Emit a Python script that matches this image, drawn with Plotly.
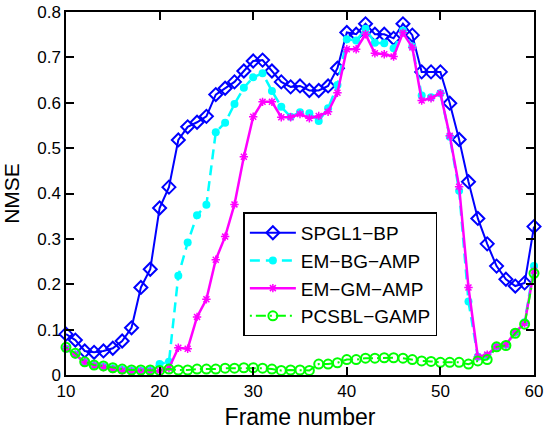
import plotly.graph_objects as go

frames = list(range(10, 61))

spgl1_bp = [0.090, 0.077, 0.053, 0.050, 0.053, 0.059, 0.075, 0.104, 0.193, 0.233,
            0.368, 0.414, 0.518, 0.547, 0.557, 0.570, 0.618, 0.632, 0.646, 0.670,
            0.692, 0.694, 0.670, 0.646, 0.635, 0.637, 0.627, 0.627, 0.637, 0.676,
            0.755, 0.751, 0.774, 0.751, 0.751, 0.742, 0.774, 0.749, 0.668, 0.668,
            0.668, 0.599, 0.519, 0.426, 0.345, 0.289, 0.240, 0.211, 0.196, 0.203,
            0.327]

em_bg_amp = [0.058, 0.045, 0.028, 0.022, 0.019, 0.015, 0.012, 0.010, 0.010, 0.011,
             0.024, 0.029, 0.219, 0.292, 0.352, 0.375, 0.535, 0.556, 0.597, 0.633,
             0.656, 0.665, 0.626, 0.591, 0.569, 0.579, 0.577, 0.560, 0.588, 0.639,
             0.740, 0.737, 0.763, 0.732, 0.731, 0.720, 0.759, 0.724, 0.616, 0.612,
             0.621, 0.525, 0.406, 0.162, 0.040, 0.042, 0.063, 0.067, 0.094, 0.116,
             0.240]

em_gm_amp = [0.058, 0.045, 0.028, 0.021, 0.017, 0.013, 0.010, 0.008, 0.008, 0.008,
             0.009, 0.015, 0.060, 0.058, 0.128, 0.167, 0.254, 0.305, 0.376, 0.481,
             0.569, 0.602, 0.602, 0.568, 0.568, 0.575, 0.566, 0.571, 0.580, 0.622,
             0.718, 0.718, 0.751, 0.709, 0.707, 0.702, 0.754, 0.722, 0.605, 0.610,
             0.621, 0.527, 0.415, 0.193, 0.040, 0.045, 0.063, 0.067, 0.094, 0.114,
             0.230]

pcsbl_gamp = [0.061, 0.048, 0.029, 0.022, 0.020, 0.016, 0.013, 0.011, 0.011, 0.011,
              0.010, 0.013, 0.011, 0.011, 0.013, 0.013, 0.013, 0.015, 0.015, 0.016,
              0.016, 0.015, 0.013, 0.010, 0.011, 0.011, 0.010, 0.024, 0.024, 0.027,
              0.034, 0.034, 0.037, 0.037, 0.038, 0.038, 0.037, 0.034, 0.031, 0.030,
              0.028, 0.028, 0.028, 0.024, 0.031, 0.034, 0.062, 0.065, 0.092, 0.112,
              0.224]

x_ticks = [10, 20, 30, 40, 50, 60]
y_ticks = [0, 0.1, 0.2, 0.3, 0.4, 0.5, 0.6, 0.7, 0.8]
y_tick_labels = ["0", "0.1", "0.2", "0.3", "0.4", "0.5", "0.6", "0.7", "0.8"]

FONT = "Liberation Sans, Arial, sans-serif"

fig = go.Figure()

fig.add_trace(go.Scatter(
    x=frames, y=spgl1_bp, name="SPGL1\u2212BP", mode="lines+markers",
    line=dict(color="#0000FF", width=2),
    marker=dict(symbol="diamond-open", size=10, color="#0000FF",
                line=dict(color="#0000FF", width=2)),
    cliponaxis=False))

fig.add_trace(go.Scatter(
    x=frames, y=em_bg_amp, name="EM\u2212BG\u2212AMP", mode="lines+markers",
    line=dict(color="#00FFFF", width=2.5, dash="10px,6px"),
    marker=dict(symbol="circle", size=8, color="#00FFFF"),
    cliponaxis=False))

fig.add_trace(go.Scatter(
    x=frames, y=em_gm_amp, name="EM\u2212GM\u2212AMP", mode="lines+markers",
    line=dict(color="#FF00FF", width=2.5),
    marker=dict(symbol="asterisk-open", size=7, color="#FF00FF",
                line=dict(color="#FF00FF", width=1.5)),
    cliponaxis=False))

fig.add_trace(go.Scatter(
    x=frames, y=pcsbl_gamp, name="PCSBL\u2212GAMP", mode="lines+markers",
    line=dict(color="#00FF00", width=2, dash="2px,4px,10px,4px"),
    marker=dict(symbol="circle-open", size=9, color="#00FF00",
                line=dict(color="#00FF00", width=2)),
    cliponaxis=False))

axis_common = dict(
    showline=True, linecolor="black", linewidth=1.5, mirror="ticks",
    ticks="inside", ticklen=8, tickwidth=1.5, tickcolor="black",
    showgrid=False, zeroline=False, automargin=False,
    ticklabeloverflow="allow",
    tickfont=dict(family=FONT, size=17, color="black"),
)

fig.update_layout(
    width=546, height=431,
    margin=dict(l=65.5, r=12, t=12, b=56),
    paper_bgcolor="white", plot_bgcolor="white",
    font=dict(family=FONT, color="black"),
    xaxis=dict(range=[10, 60], tickvals=x_ticks,
               title=dict(text="Frame number", font=dict(family=FONT, size=23), standoff=9),
               **axis_common),
    yaxis=dict(range=[0, 0.8], tickvals=y_ticks, ticktext=y_tick_labels,
               title=dict(text="NMSE", font=dict(family=FONT, size=21), standoff=16),
               **axis_common),
    legend=dict(x=0.379, y=0.448, xanchor="left", yanchor="top",
                bgcolor="white", bordercolor="black", borderwidth=1.5,
                font=dict(family=FONT, size=19, color="black"),
                itemwidth=46, tracegroupgap=0),
    showlegend=True,
)

# remove the default 8px page margin so the figure sits at the window origin
fig.write_html("out.html", config={"displayModeBar": False},
               post_script="document.body.style.margin='0px';")
